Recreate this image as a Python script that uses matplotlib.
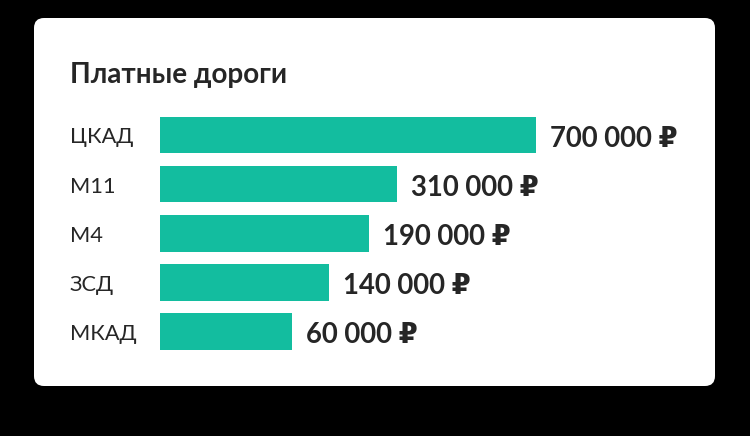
import matplotlib
matplotlib.use("Agg")
import matplotlib.pyplot as plt
from matplotlib.patches import FancyBboxPatch

plt.rcParams['font.family'] = ['Lato', 'DejaVu Sans']

title = 'Платные дороги'
roads = ['ЦКАД', 'М11', 'М4', 'ЗСД', 'МКАД']
costs = [700000, 310000, 190000, 140000, 60000]
# bar lengths as drawn in the picture, % of the longest bar (not proportional to cost)
bar_len = [100, 63.1, 55.6, 45.0, 35.2]

bar_color = '#13bd9f'
text_color = '#262626'

W, H = 750, 436
fig = plt.figure(figsize=(W / 100, H / 100), dpi=100, facecolor='black')

# background layer in pixel coordinates for the white card
bg = fig.add_axes([0, 0, 1, 1])
bg.set_xlim(0, W)
bg.set_ylim(H, 0)
bg.axis('off')
card = FancyBboxPatch((34, 18), 681, 368, boxstyle='round,pad=0,rounding_size=10',
                      facecolor='white', edgecolor='none')
bg.add_patch(card)

fig.text(70 / W, 1 - 83.5 / H, title, fontsize=20, fontweight='bold',
         color=text_color, va='baseline', ha='left')

ax = fig.add_axes([159.5 / W, 1 - 356.3 / H, 540 / W, 245.9 / H])
ax.patch.set_alpha(0)
y = list(range(len(roads)))
ax.barh(y, bar_len, height=0.744, color=bar_color)
ax.set_ylim(len(roads) - 0.5, -0.5)
ax.set_xlim(0, 540 / 376.5 * 100)
ax.set_xticks([])
ax.set_yticks([])
for s in ax.spines.values():
    s.set_visible(False)

# category names, left aligned at the card's text margin
for yi, name in zip(y, roads):
    ax.annotate(name, (0, yi), xycoords=('axes fraction', 'data'),
                xytext=(-89.5 * 0.72, -6), textcoords='offset points',
                ha='left', va='baseline', fontsize=15.7, color=text_color)

for yi, v, c in zip(y, bar_len, costs):
    label = f'{c:,}'.replace(',', ' ') + ' ₽'
    ax.annotate(label, (v, yi), xytext=(10, -8.4), textcoords='offset points',
                va='baseline', ha='left', fontsize=19.8, fontweight='bold', color=text_color)

fig.savefig('out.png', dpi=100, facecolor='black')
